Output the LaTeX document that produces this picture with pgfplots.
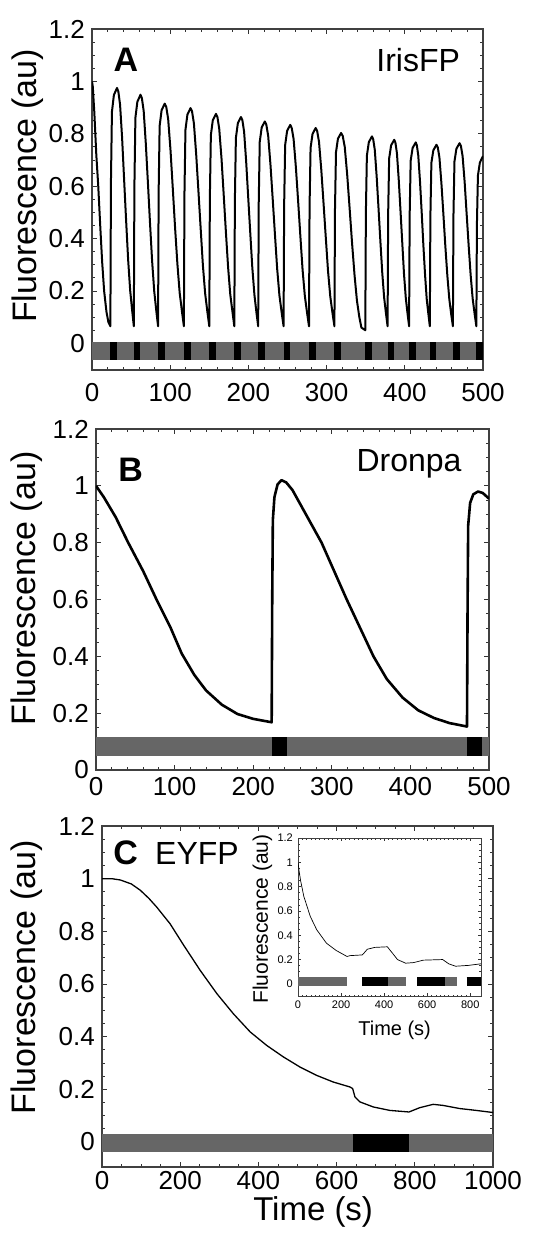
\documentclass[border=0pt]{standalone}
\usepackage{pgfplots}
\pgfplotsset{compat=1.18}
\usepackage{fontspec}
\setmainfont{Liberation Sans}
\definecolor{bargray}{RGB}{102,102,102}
\tikzset{
  plabel/.style={font=\fontsize{34}{34}\selectfont\bfseries},
  pname/.style={font=\fontsize{32}{32}\selectfont},
}
\pgfplotsset{
  panel/.style={
    scale only axis, width=391pt, height=341pt, xmin=0, xmax=500,
    tick align=inside,
    /pgf/number format/assume math mode=true,
    /pgf/number format/1000 sep={},
    ticklabel style={font=\fontsize{26}{26}\selectfont},
    label style={font=\fontsize{34}{34}\selectfont},
    major tick length=5pt, minor tick length=2.7pt,
    tick style={line width=0.8pt, black!80},
    axis line style={line width=1.2pt, black!75},
    ytick={0,0.2,0.4,0.6,0.8,1,1.2},
    minor y tick num=3,
    yticklabel style={inner sep=0pt, xshift=-7pt},
    xticklabel style={inner sep=0pt, yshift=-7pt},
    ylabel={Fluorescence (au)},
  },
}
\begin{document}
\begin{tikzpicture}
\useasboundingbox (0pt,0pt) rectangle (546pt,-1234pt);
% ---------------- Panel A
\begin{axis}[panel, at={(92pt,-370pt)}, anchor=south west,
  ymin=-0.102, ymax=1.2, xtick={0,100,200,300,400,500}, minor x tick num=4,
  xticklabel style={yshift=-6pt},
  ylabel style={at={(axis description cs:-0.143,0.54)}, anchor=base}]
\addplot[bargray, line width=18.3pt, forget plot] coordinates {(0,-0.029) (500,-0.029)};
\addplot[black, line width=18.3pt, unbounded coords=jump, forget plot] table {
x y
23.5 -0.029
32 -0.029
32 nan
53.5 -0.029
62 -0.029
62 nan
84.5 -0.029
93 -0.029
93 nan
117.5 -0.029
126 -0.029
126 nan
150 -0.029
158.5 -0.029
158.5 nan
182 -0.029
190.5 -0.029
190.5 nan
212.5 -0.029
221 -0.029
221 nan
245 -0.029
253.5 -0.029
253.5 nan
277.5 -0.029
286 -0.029
286 nan
310 -0.029
318.5 -0.029
318.5 nan
349.5 -0.029
358 -0.029
358 nan
378 -0.029
386.5 -0.029
386.5 nan
405.5 -0.029
414 -0.029
414 nan
432 -0.029
440.5 -0.029
440.5 nan
461.5 -0.029
470 -0.029
470 nan
491.5 -0.029
500 -0.029
};
\addplot[black, line width=2pt, line join=round] coordinates {
(0,1.0) (1,0.98) (3,0.88) (5.5,0.72) (8,0.6) (10.5,0.45) (13,0.31) (15.5,0.2) (18.5,0.12) (21,0.08) (23.5,0.065)
(24.2,0.611) (25.5,0.884) (28,0.948) (32,0.975)
(33.7,0.961) (35.9,0.911) (38.5,0.784) (41.0,0.629) (43.6,0.470) (46.2,0.320) (48.8,0.202) (51.4,0.124) (53.5,0.065)
(54.2,0.595) (55.5,0.861) (58,0.922) (62,0.949)
(63.8,0.936) (66.1,0.887) (68.8,0.763) (71.5,0.613) (74.2,0.458) (76.9,0.313) (79.6,0.198) (82.3,0.122) (84.5,0.065)
(85.2,0.575) (86.5,0.830) (89,0.890) (93,0.915)
(95.0,0.902) (97.4,0.856) (100.4,0.737) (103.3,0.592) (106.2,0.443) (109.2,0.303) (112.1,0.193) (115.1,0.120) (117.5,0.065)
(118.2,0.565) (119.5,0.815) (122,0.873) (126,0.898)
(127.9,0.886) (130.3,0.840) (133.2,0.723) (136.1,0.581) (139.0,0.436) (141.8,0.298) (144.7,0.190) (147.6,0.119) (150,0.065)
(150.7,0.552) (152,0.795) (154.5,0.852) (158.5,0.876)
(160.4,0.864) (162.7,0.819) (165.6,0.706) (168.4,0.568) (171.2,0.426) (174.0,0.292) (176.8,0.187) (179.7,0.118) (182,0.065)
(182.7,0.544) (184,0.784) (186.5,0.840) (190.5,0.864)
(192.3,0.852) (194.5,0.808) (197.1,0.696) (199.7,0.560) (202.4,0.421) (205.0,0.289) (207.7,0.185) (210.3,0.117) (212.5,0.065)
(213.2,0.534) (214.5,0.769) (217,0.824) (221,0.847)
(222.9,0.835) (225.3,0.792) (228.2,0.683) (231.1,0.550) (234.0,0.413) (236.8,0.284) (239.7,0.182) (242.6,0.116) (245,0.065)
(245.7,0.526) (247,0.757) (249.5,0.811) (253.5,0.834)
(255.4,0.822) (257.8,0.780) (260.7,0.673) (263.6,0.542) (266.5,0.407) (269.3,0.280) (272.2,0.180) (275.1,0.115) (277.5,0.065)
(278.2,0.519) (279.5,0.746) (282,0.799) (286,0.822)
(287.9,0.811) (290.3,0.769) (293.2,0.663) (296.1,0.534) (299.0,0.402) (301.8,0.277) (304.7,0.179) (307.6,0.114) (310,0.065)
(310.7,0.508) (312,0.729) (314.5,0.781) (318.5,0.803)
(320.6,0.792) (323.2,0.750) (326.3,0.645) (329.4,0.517) (332.5,0.385) (335.7,0.261) (338.8,0.163) (341.9,0.099) (344.5,0.06) (349.5,0.05)
(350.2,0.494) (351.5,0.716) (354,0.768) (358,0.790)
(359.6,0.779) (361.6,0.739) (364.0,0.638) (366.4,0.515) (368.8,0.388) (371.2,0.268) (373.6,0.174) (376.0,0.112) (378,0.065)
(378.7,0.492) (380,0.706) (382.5,0.756) (386.5,0.777)
(388.0,0.766) (389.9,0.727) (392.2,0.627) (394.5,0.506) (396.8,0.382) (399.0,0.264) (401.3,0.172) (403.6,0.111) (405.5,0.065)
(406.2,0.486) (407.5,0.697) (410,0.746) (414,0.767)
(415.4,0.756) (417.2,0.718) (419.4,0.620) (421.6,0.500) (423.7,0.377) (425.9,0.262) (428.0,0.170) (430.2,0.111) (432,0.065)
(432.7,0.481) (434,0.689) (436.5,0.737) (440.5,0.758)
(442.2,0.748) (444.3,0.709) (446.8,0.612) (449.3,0.495) (451.8,0.373) (454.4,0.259) (456.9,0.169) (459.4,0.110) (461.5,0.065)
(462.2,0.484) (463.5,0.694) (466,0.743) (470,0.764)
(471.7,0.754) (473.9,0.715) (476.5,0.617) (479.0,0.498) (481.6,0.376) (484.2,0.261) (486.8,0.170) (489.4,0.110) (491.5,0.065)
(492.2,0.45) (493.5,0.64) (496,0.69) (500,0.715)
};
\node[plabel, anchor=base west] at (rel axis cs:0.046,0.875) {A};
\node[pname, anchor=base east] at (rel axis cs:0.95,0.875) {IrisFP};
\end{axis}
% ---------------- Panel B
\begin{axis}[panel, at={(96pt,-770pt)}, anchor=south west, width=393pt,
  ymin=0, ymax=1.2, xtick={0,100,200,300,400,500}, minor x tick num=4,
  ylabel style={at={(axis description cs:-0.153,0.532)}, anchor=base}]
\addplot[bargray, line width=18.5pt, forget plot] coordinates {(0,0.0835) (500,0.0835)};
\addplot[black, line width=18.5pt, unbounded coords=jump, forget plot] table {
x y
223.7 0.0835
242.8 0.0835
242.8 nan
472 0.0835
491.5 0.0835
};
\addplot[black, line width=2.6pt, line join=round] coordinates {
(0,1.0) (10,0.96) (25,0.89) (41,0.80) (60,0.70) (77,0.60) (95,0.50) (109,0.41)
(125,0.335) (140,0.28) (160,0.23) (180,0.197) (200,0.18) (223.5,0.168)
(224.2,0.6) (225,0.88) (227,0.96) (231,1.005) (236,1.02) (242,1.012)
(250,0.985) (265,0.91) (287,0.80) (303,0.70) (319,0.60) (336,0.50) (353,0.40)
(370,0.32) (390,0.255) (410,0.21) (430,0.183) (450,0.165) (472,0.153)
(472.7,0.55) (473.5,0.86) (476,0.94) (480,0.97) (486,0.98) (492,0.975) (500,0.955)
};
\node[plabel, anchor=base west] at (rel axis cs:0.048,0.845) {B};
\node[pname, anchor=base east] at (rel axis cs:0.939,0.875) {Dronpa};
\end{axis}
% ---------------- Panel C
\begin{axis}[panel, at={(102pt,-1167pt)}, anchor=south west,
  xmax=1000, ymin=-0.095, ymax=1.2, xtick={0,200,400,600,800,1000}, minor x tick num=3,
  xticklabel style={yshift=3pt},
  xlabel={Time (s)},
  xlabel style={font=\fontsize{33}{33}\selectfont, at={(axis description cs:0.54,-0.158)}, anchor=base},
  ylabel style={at={(axis description cs:-0.169,0.556)}, anchor=base}]
\addplot[bargray, line width=18.3pt, forget plot] coordinates {(0,-0.003) (1000,-0.003)};
\addplot[black, line width=18.3pt, forget plot] coordinates {(641,-0.003) (785.5,-0.003)};
\addplot[black, line width=1.3pt, line join=round] coordinates {
(0,1.0) (25,1.0) (47,0.995) (75,0.98) (98,0.956) (120,0.925) (140,0.892) (174,0.829)
(209,0.747) (251,0.652) (294,0.563) (336,0.487) (379,0.418) (421,0.367) (464,0.323)
(506,0.285) (549,0.253) (591,0.228) (634,0.209) (641,0.203) (647,0.171) (660,0.152)
(694,0.133) (736,0.12) (785,0.114) (812,0.130) (847,0.143) (872,0.139) (915,0.127)
(957,0.12) (1000,0.112)
};
\node[plabel, anchor=base west] at (rel axis cs:0.02,0.886) {C};
\node[pname, anchor=base west] at (rel axis cs:0.127,0.886) {EYFP};
\end{axis}
% ---------------- Inset
\begin{axis}[scale only axis, width=183pt, height=158pt, at={(298pt,-996pt)}, anchor=south west,
  xmin=0, xmax=850, ymin=-0.1, ymax=1.2,
  axis background/.style={fill=white},
  tick align=inside,
  /pgf/number format/assume math mode=true,
  ticklabel style={font=\fontsize{11}{11}\selectfont},
  xtick={0,200,400,600,800}, ytick={0,0.2,0.4,0.6,0.8,1,1.2},
  minor x tick num=9, minor y tick num=3,
  major tick length=3pt, minor tick length=1.5pt,
  tick style={line width=0.5pt, black!80},
  axis line style={line width=0.8pt, black!75},
  yticklabel style={inner sep=0pt, xshift=-5pt},
  xticklabel style={inner sep=0pt, yshift=-4.5pt},
  xlabel={Time (s)}, ylabel={Fluorescence (au)},
  xlabel style={font=\fontsize{20}{20}\selectfont, at={(axis description cs:0.528,-0.247)}, anchor=base},
  ylabel style={font=\fontsize{21}{21}\selectfont, at={(axis description cs:-0.164,0.487)}, anchor=base}]
\addplot[bargray, line width=8.4pt, unbounded coords=jump, forget plot] table {
x y
0 0.02
228 0.02
228 nan
418 0.02
500 0.02
500 nan
681 0.02
739 0.02
};
\addplot[black, line width=8.4pt, unbounded coords=jump, forget plot] table {
x y
299 0.02
418 0.02
418 nan
553 0.02
681 0.02
681 nan
783 0.02
850 0.02
};
\addplot[black, line width=0.7pt, line join=round] coordinates {
(0,1.0) (5,0.93) (12,0.85) (27,0.72) (57,0.555) (87,0.445) (132,0.335) (177,0.275)
(228,0.225) (240,0.232) (298,0.238) (305,0.25) (322,0.285) (357,0.30) (415,0.305)
(440,0.25) (462,0.20) (500,0.17) (537,0.175) (582,0.195) (672,0.2) (700,0.165)
(732,0.145) (792,0.152) (850,0.165)
};
\end{axis}
\end{tikzpicture}
\end{document}
